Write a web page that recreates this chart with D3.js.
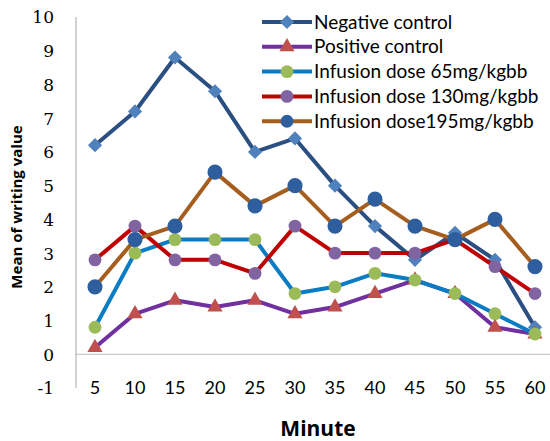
<!DOCTYPE html>
<html><head><meta charset="utf-8">
<script src="https://cdn.jsdelivr.net/npm/d3@7"></script>
<style>body{margin:0;background:#fff}svg{display:block}</style>
</head><body>
<svg id="c" width="550" height="441"></svg>
<script>
const minutes = ["5","10","15","20","25","30","35","40","45","50","55","60"];
const yTicks = [-1,0,1,2,3,4,5,6,7,8,9,10];
const seriesNames = ["Negative control","Positive control","Infusion dose 65mg/kgbb","Infusion dose 130mg/kgbb","Infusion dose195mg/kgbb"];
const negativeControl = [6.2,7.2,8.8,7.8,6.0,6.4,5.0,3.8,2.8,3.6,2.8,0.8];
const positiveControl = [0.2,1.2,1.6,1.4,1.6,1.2,1.4,1.8,2.2,1.8,0.8,0.6];
const dose65 = [0.8,3.0,3.4,3.4,3.4,1.8,2.0,2.4,2.2,1.8,1.2,0.6];
const dose130 = [2.8,3.8,2.8,2.8,2.4,3.8,3.0,3.0,3.0,3.4,2.6,1.8];
const dose195 = [2.0,3.4,3.8,5.4,4.4,5.0,3.8,4.6,3.8,3.4,4.0,2.6];

const styles = [
  {line:"#2B4F80", fill:"#4F81BD", shape:"diamond", size:100},
  {line:"#7030A0", fill:"#C0504D", shape:"triangle", size:100},
  {line:"#0A7CC4", fill:"#9BBB59", shape:"circle", size:130},
  {line:"#C00000", fill:"#8064A2", shape:"circle", size:130},
  {line:"#A65E1E", fill:"#2E5E9E", shape:"circle", size:180}
];
const data = [negativeControl, positiveControl, dose65, dose130, dose195];

const svg = d3.select("#c");
const x = d3.scaleBand().domain(minutes).range([75, 555]);
const y = d3.scaleLinear().domain([-1,10]).range([388, 17]);

svg.append("line").attr("x1",76).attr("x2",550).attr("y1",y(0)).attr("y2",y(0))
  .attr("stroke","#BFBFBF").attr("stroke-width",1);
svg.append("line").attr("x1",76).attr("x2",76).attr("y1",y(10)).attr("y2",y(-1))
  .attr("stroke","#A6A6A6").attr("stroke-width",1);

const yAxis = d3.axisLeft(y).tickValues(yTicks).tickSize(0).tickPadding(0).tickFormat(d=>String(d));
const gy = svg.append("g").attr("transform","translate(54,0)").call(yAxis);
gy.select(".domain").remove();
gy.selectAll("text").attr("font-family","'DejaVu Serif','Liberation Serif',serif").attr("font-size",17).attr("fill","#000").attr("dy","0.35em");

const xAxis = d3.axisBottom(x).tickSize(0).tickPadding(0);
const gx = svg.append("g").attr("transform",`translate(0,${y(-1)})`).call(xAxis);
gx.select(".domain").remove();
gx.selectAll("text").attr("font-family","Lato,'Open Sans',sans-serif").attr("font-size",18).attr("fill","#000").attr("dy","0.35em");

const line = d3.line().x((d,i)=>x(minutes[i])+x.bandwidth()/2).y(d=>y(d));
const squareDiamond = {draw(ctx,size){const r=Math.sqrt(size/2);ctx.moveTo(0,-r);ctx.lineTo(r,0);ctx.lineTo(0,r);ctx.lineTo(-r,0);ctx.closePath();}};
const symMap = {diamond:squareDiamond, triangle:d3.symbolTriangle, circle:d3.symbolCircle};

data.forEach((vals,k)=>{
  const st = styles[k];
  svg.append("path").attr("d",line(vals)).attr("fill","none").attr("stroke",st.line).attr("stroke-width",4).attr("stroke-linejoin","round");
  svg.append("g").selectAll("path").data(vals).join("path")
    .attr("transform",(d,i)=>`translate(${x(minutes[i])+x.bandwidth()/2},${y(d)})`)
    .attr("d",d3.symbol().type(symMap[st.shape]).size(st.size)())
    .attr("fill",st.fill);
});

const lg = svg.append("g");
seriesNames.forEach((n,k)=>{
  const st = styles[k];
  const yy = 22 + k*24.8;
  lg.append("line").attr("x1",262).attr("x2",312).attr("y1",yy).attr("y2",yy).attr("stroke",st.line).attr("stroke-width",4);
  lg.append("path").attr("transform",`translate(287,${yy})`).attr("d",d3.symbol().type(symMap[st.shape]).size(st.shape==="circle"?130:st.size)()).attr("fill",st.fill);
  lg.append("text").attr("x",314).attr("y",yy).attr("dy","0.35em").attr("font-family","Lato,'Open Sans',sans-serif").attr("font-size",19).attr("fill","#000").text(n);
});

svg.append("text").attr("transform","translate(22,207) rotate(-90)").attr("text-anchor","middle")
  .attr("font-family","'Open Sans',Lato,sans-serif").attr("font-weight","bold").attr("font-size",15).attr("fill","#000").text("Mean of writing value");
svg.append("text").attr("x",318).attr("y",436).attr("text-anchor","middle")
  .attr("font-family","'Open Sans',Lato,sans-serif").attr("font-weight","bold").attr("font-size",21).attr("fill","#000").text("Minute");
</script>
</body></html>
